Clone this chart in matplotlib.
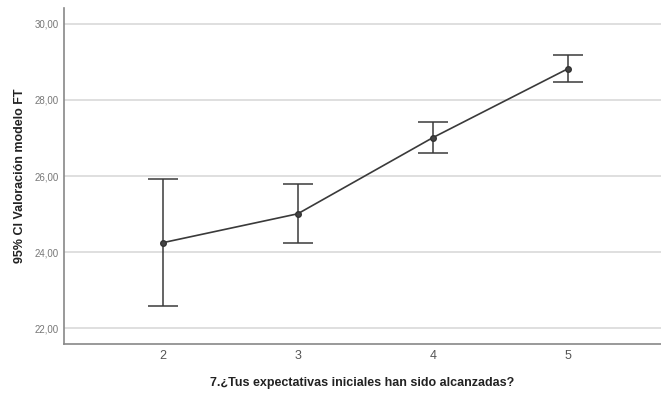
import matplotlib.pyplot as plt
import numpy as np

plt.rcParams["font.family"] = ["Liberation Sans", "DejaVu Sans"]

# respuesta a la pregunta 7 y su IC 95%
categorias = [2, 3, 4, 5]
media = [24.25, 25.01, 27.01, 28.82]
ic_inf = [22.60, 24.24, 26.61, 28.46]
ic_sup = [25.92, 25.78, 27.41, 29.19]
y_ticks = [22, 24, 26, 28, 30]

media = np.array(media)
err = [media - np.array(ic_inf), np.array(ic_sup) - media]

fig = plt.figure(figsize=(6.61, 3.94), dpi=100)
ax = fig.add_axes([0.097, 0.127, 0.903, 0.853])

for t in y_ticks:
    ax.axhline(t, color="#d9d9d9", lw=1.2, zorder=0)

ax.errorbar(categorias, media, yerr=err, fmt="o-", color="#3a3a3a",
            ecolor="#3a3a3a", lw=1.2, elinewidth=1.1, capsize=10.8,
            capthick=1.1, ms=4, mfc="#444444", mec="#333333")

ax.set_xlim(1.27, 5.69)
ax.set_ylim(21.59, 30.42)
ax.set_xticks(categorias)
ax.set_xticklabels([str(c) for c in categorias], fontsize=9, color="#555555")
ax.set_yticks(y_ticks)
ax.set_yticklabels([f"{t:.2f}".replace(".", ",") for t in y_ticks],
                   fontsize=7, color="#777777")
ax.tick_params(length=0, pad=4)

for s in ["top", "right"]:
    ax.spines[s].set_visible(False)
ax.spines["left"].set_color("#888888")
ax.spines["bottom"].set_color("#888888")
ax.spines["left"].set_linewidth(1.2)
ax.spines["bottom"].set_linewidth(1.2)

ax.set_xlabel("7.¿Tus expectativas iniciales han sido alcanzadas?",
              fontsize=9, fontweight="bold", color="#222222", labelpad=11)
ax.set_ylabel("95% CI Valoración modelo FT", fontsize=9,
              fontweight="bold", color="#222222", labelpad=6)

fig.savefig("out.png", dpi=100)
